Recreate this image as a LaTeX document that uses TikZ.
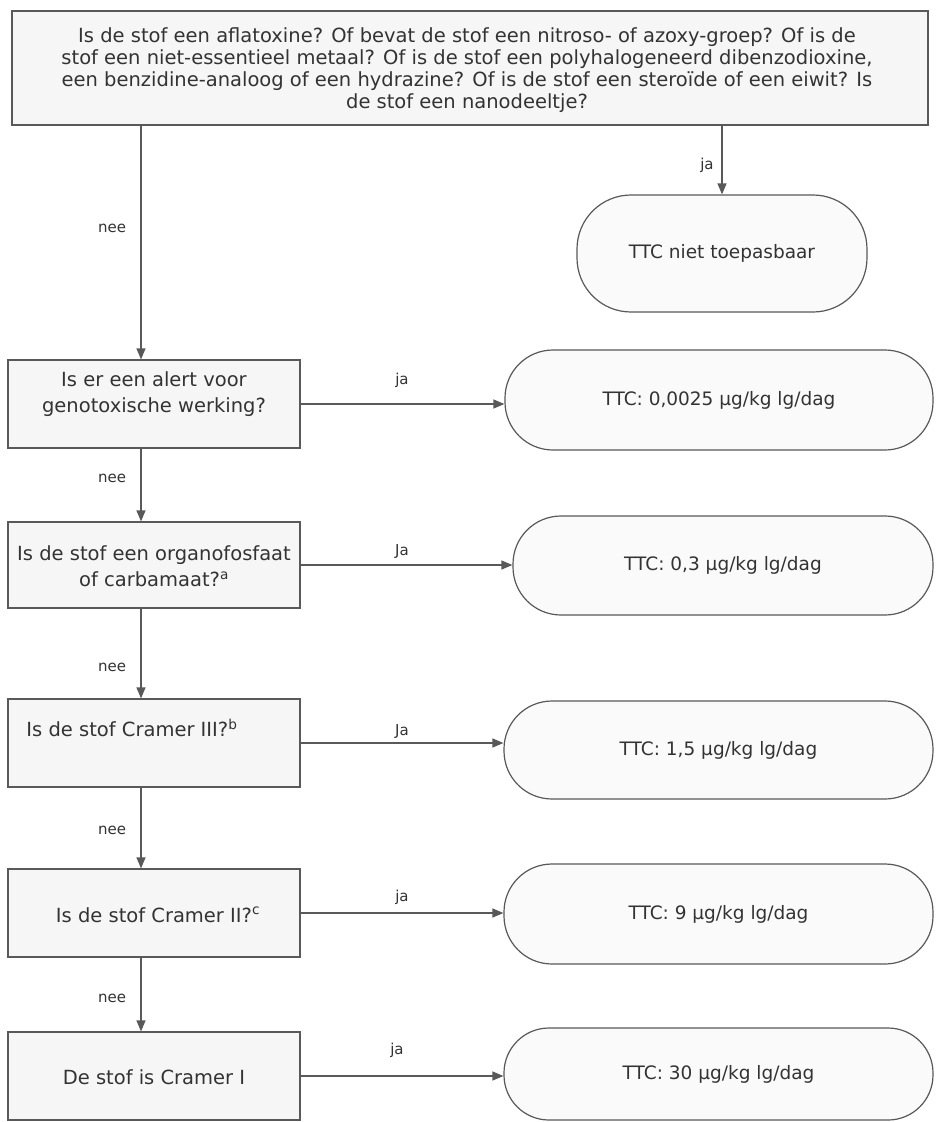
\documentclass[tikz,border=0pt]{standalone}
\usepackage{fontspec}
\setmainfont{DejaVu Sans}
\usetikzlibrary{arrows.meta,calc}
\definecolor{ln}{HTML}{595959}
\definecolor{tx}{HTML}{333333}
\definecolor{bx}{HTML}{F6F6F6}
\definecolor{sx}{HTML}{FAFAFA}
\begin{document}
\begin{tikzpicture}[x=1pt,y=-1pt,
  qbox/.style={draw=ln, line width=1.2pt, fill=bx, rectangle, minimum width=292pt, minimum height=88pt, inner sep=0pt},
  qtext/.style={align=center, text=tx, font=\fontsize{19.5}{26.5}\selectfont, inner sep=0pt},
  stad/.style={draw=ln, line width=1.2pt, fill=sx, rectangle, rounded corners=48pt, align=center, text=tx, font=\fontsize{18.5}{22}\selectfont, inner sep=0pt},
  lbl/.style={text=tx, font=\fontsize{15}{18}\selectfont, inner sep=0pt},
  arr/.style={draw=ln, line width=1.2pt, -{Triangle[length=11pt,width=9pt]}},
]
\useasboundingbox[fill=white] (0,0) rectangle (935,1122);

% top question
\node[draw=ln, line width=1.2pt, fill=bx, minimum width=916pt, minimum height=114pt, inner sep=0pt] (top) at (470,68) {};
\node[align=center, text=tx, font=\fontsize{19.5}{22}\selectfont, inner sep=0pt] (topt) at (467,70)
 {Is de stof een aflatoxine? Of bevat de stof een nitroso- of azoxy-groep? Of is de\\
  stof een niet-essentieel metaal? Of is de stof een polyhalogeneerd dibenzodioxine,\\
  een benzidine-analoog of een hydrazine? Of is de stof een steroïde of een eiwit? Is\\
  de stof een nanodeeltje?};

\coordinate (tx) at (141,0);

% decision boxes
\node[qbox] (b1) at (154,404) {};
\node[qtext] (b1t) at (154,394) {Is er een alert voor\\genotoxische werking?};
\node[qbox, minimum height=86pt] (b2) at (154,565) {};
\node[qtext] (b2t) at (154,566) {Is de stof een organofosfaat\\of carbamaat?\textsuperscript{a}};
\node[qbox] (b3) at (154,743) {};
\node[qtext] (b3t) at (132,728) {Is de stof Cramer III?\textsuperscript{b}};
\node[qbox] (b4) at (154,913) {};
\node[qtext] (b4t) at (158,915) {Is de stof Cramer II?\textsuperscript{c}};
\node[qbox] (b5) at (154,1076) {};
\node[qtext] (b5t) at (154,1077) {De stof is Cramer I};

% result stadiums
\node[stad, minimum width=290pt, minimum height=117pt, rounded corners=54pt] (s0) at (722,253.5) {TTC niet toepasbaar};
\node[stad, minimum width=428pt, minimum height=100pt] (s1) at (719,400) {TTC: 0,0025 µg/kg lg/dag};
\node[stad, minimum width=420pt, minimum height=99pt] (s2) at (723,565.5) {TTC: 0,3 µg/kg lg/dag};
\node[stad, minimum width=429pt, minimum height=98pt] (s3) at (718.5,750) {TTC: 1,5 µg/kg lg/dag};
\node[stad, minimum width=429pt, minimum height=100pt] (s4) at (718.5,914) {TTC: 9 µg/kg lg/dag};
\node[stad, minimum width=429pt, minimum height=92pt, rounded corners=45pt] (s5) at (718.5,1074) {TTC: 30 µg/kg lg/dag};

% vertical connectors
\draw[arr] (top.south -| s0.north) -- (s0.north);
\draw[arr] (top.south -| tx) -- (b1.north -| tx);
\draw[arr] (b1.south -| tx) -- (b2.north -| tx);
\draw[arr] (b2.south -| tx) -- (b3.north -| tx);
\draw[arr] (b3.south -| tx) -- (b4.north -| tx);
\draw[arr] (b4.south -| tx) -- (b5.north -| tx);

% horizontal connectors
\draw[arr] (b1.east) -- (b1.east -| s1.west);
\draw[arr] (b2.east) -- (b2.east -| s2.west);
\draw[arr] (b3.east) -- (b3.east -| s3.west);
\draw[arr] (b4.east) -- (b4.east -| s4.west);
\draw[arr] (b5.east) -- (b5.east -| s5.west);

% labels
\node[lbl] (l0) at (707,165) {ja};
\node[lbl] (n0) at (112,228) {nee};
\node[lbl] (l1) at (402,380) {ja};
\node[lbl] (n1) at (112,478) {nee};
\node[lbl] (l2) at (402,552) {Ja};
\node[lbl] (n2) at (112,667) {nee};
\node[lbl] (l3) at (402,732) {Ja};
\node[lbl] (n3) at (112,830) {nee};
\node[lbl] (l4) at (402,897) {ja};
\node[lbl] (n4) at (112,998) {nee};
\node[lbl] (l5) at (397,1050) {ja};
\end{tikzpicture}
\end{document}
